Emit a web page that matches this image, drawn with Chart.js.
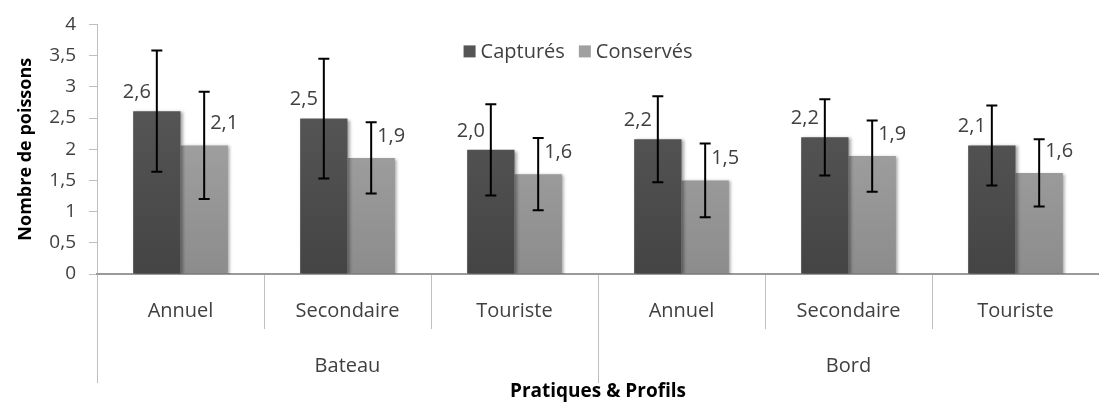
<!doctype html>
<html lang="fr">
<head>
  <meta charset="utf-8">
  <title>Nombre de poissons</title>
  <script src="https://cdn.jsdelivr.net/npm/chart.js"></script>
  <style>
    html, body { margin: 0; padding: 0; background: #fff; }
    #wrap { width: 1099px; height: 407px; }
  </style>
</head>
<body>
  <div id="wrap"><canvas id="chart"></canvas></div>

  <script>
    const profils = ['Annuel', 'Secondaire', 'Touriste', 'Annuel', 'Secondaire', 'Touriste'];
    const pratiques = ['Bateau', 'Bord'];
    const captures = [2.61, 2.49, 1.99, 2.16, 2.19, 2.06];
    const capturesErr = [0.97, 0.96, 0.73, 0.69, 0.61, 0.64];
    const conserves = [2.06, 1.86, 1.60, 1.50, 1.89, 1.62];
    const conservesErr = [0.86, 0.57, 0.58, 0.59, 0.57, 0.54];
    const yTicks = [0, 0.5, 1, 1.5, 2, 2.5, 3, 3.5, 4];
    const legendColors = ['#555555', '#a0a0a0'];

    const FONT = "'Open Sans', sans-serif";
    const TEXT = '#404040';
    const comma = v => String(v).replace('.', ',');

    function grad(top, bottom) {
      return ctx => {
        const area = ctx.chart.chartArea;
        if (!area) return bottom;
        const g = ctx.chart.ctx.createLinearGradient(0, area.top, 0, area.bottom);
        g.addColorStop(0, top);
        g.addColorStop(1, bottom);
        return g;
      };
    }

    // error bars, value labels and the legend inside the plot
    const extras = {
      id: 'extras',
      beforeDatasetsDraw(chart) {
        const c = chart.ctx;
        c.save();
        c.shadowColor = 'rgba(0,0,0,0.35)';
        c.shadowBlur = 3;
        c.shadowOffsetX = 2;
        c.shadowOffsetY = 1;
      },
      afterDatasetsDraw(chart) {
        const c = chart.ctx;
        c.restore();
        const y = chart.scales.y;
        c.save();
        chart.data.datasets.forEach((ds, i) => {
          const meta = chart.getDatasetMeta(i);
          meta.data.forEach((bar, j) => {
            const v = ds.data[j], e = ds.errors[j];
            const top = y.getPixelForValue(v + e);
            const bot = y.getPixelForValue(v - e);
            c.strokeStyle = '#000';
            c.lineWidth = 2;
            c.beginPath();
            c.moveTo(bar.x, top); c.lineTo(bar.x, bot);
            c.moveTo(bar.x - 5.5, top); c.lineTo(bar.x + 5.5, top);
            c.moveTo(bar.x - 5.5, bot); c.lineTo(bar.x + 5.5, bot);
            c.stroke();

            c.fillStyle = TEXT;
            c.font = '20px ' + FONT;
            c.textAlign = 'center';
            c.textBaseline = 'middle';
            const dx = i === 0 ? -20 : 20;
            const dy = i === 0 ? -19 : -22;
            c.fillText(comma(v.toFixed(1)), bar.x + dx, bar.y + dy);
          });
        });
        c.restore();
      },
      afterDraw(chart) {
        const c = chart.ctx, a = chart.chartArea;
        c.save();
        c.font = '20px ' + FONT;
        c.textBaseline = 'middle';
        c.textAlign = 'left';
        const box = 12, gap = 5, between = 14;
        const items = chart.data.datasets.map((ds, i) => ({
          text: ds.label, color: legendColors[i], w: box + gap + c.measureText(ds.label).width
        }));
        const total = items.reduce((s, it) => s + it.w, 0) + between * (items.length - 1);
        let x = (a.left + a.right) / 2 - 20 - total / 2;
        const cy = a.top + 27;
        items.forEach(it => {
          c.fillStyle = it.color;
          c.fillRect(x, cy - box / 2, box, box);
          c.fillStyle = TEXT;
          c.fillText(it.text, x + box + gap, cy + 1);
          x += it.w + between;
        });
        c.restore();
      }
    };

    new Chart(document.getElementById('chart'), {
      type: 'bar',
      data: {
        labels: profils,
        datasets: [
          { label: 'Capturés', data: captures, errors: capturesErr,
            backgroundColor: grad('#5e5e5e', '#444444') },
          { label: 'Conservés', data: conserves, errors: conservesErr,
            backgroundColor: grad('#afafaf', '#8c8c8c') }
        ]
      },
      options: {
        responsive: true,
        maintainAspectRatio: false,
        animation: false,
        categoryPercentage: 0.567,
        barPercentage: 1,
        layout: { padding: { top: 20, left: 11, right: -3, bottom: 0 } },
        plugins: {
          tooltip: { enabled: false },
          legend: { display: false }
        },
        scales: {
          y: {
            min: 0, max: 4,
            afterBuildTicks(scale) { scale.ticks = yTicks.map(v => ({ value: v })); },
            afterFit(scale) { scale.width = 86; },
            ticks: {
              color: TEXT,
              font: { family: FONT, size: 19 },
              padding: 13,
              callback: v => comma(v)
            },
            grid: { drawOnChartArea: false, drawTicks: true, tickLength: 8, color: '#bfbfbf' },
            border: { color: '#bfbfbf' },
            title: {
              display: true, text: 'Nombre de poissons', color: '#000',
              font: { family: FONT, size: 18, weight: 'bold' }
            }
          },
          x: {
            afterFit(scale) { scale.height = 55; },
            ticks: {
              color: TEXT, autoSkip: false, maxRotation: 0,
              font: { family: FONT, size: 20 },
              padding: -30
            },
            grid: { offset: true, drawOnChartArea: false, drawTicks: true, tickLength: 55, color: '#c0c0c0' },
            border: { color: '#9a9a9a', width: 2 }
          },
          x2: {
            type: 'category',
            position: 'bottom',
            labels: pratiques,
            afterFit(scale) { scale.height = 78; },
            ticks: {
              color: TEXT, autoSkip: false, maxRotation: 0,
              font: { family: FONT, size: 20 },
              padding: -29
            },
            grid: { offset: true, drawOnChartArea: false, drawTicks: true, tickLength: 54, color: '#c0c0c0' },
            border: { display: false },
            title: {
              display: true, text: 'Pratiques & Profils', color: '#000',
              font: { family: FONT, size: 19, weight: 'bold' }
            }
          }
        }
      },
      plugins: [extras]
    });
  </script>
</body>
</html>
